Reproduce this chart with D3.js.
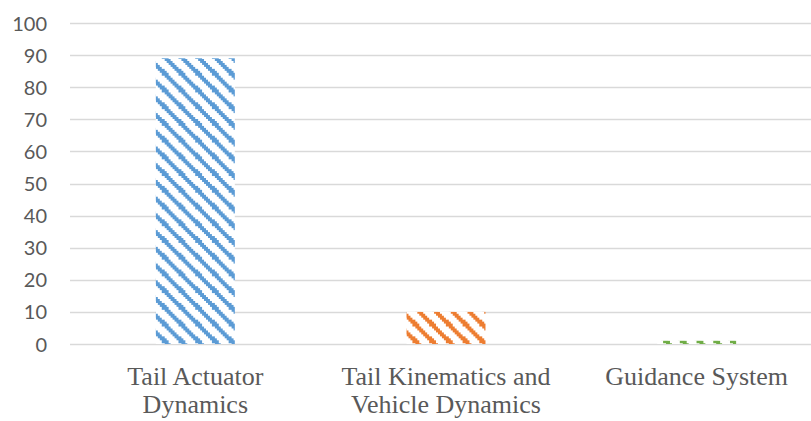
<!DOCTYPE html>
<html>
<head>
<meta charset="utf-8">
<script src="https://cdn.jsdelivr.net/npm/d3@7"></script>
<style>
  html, body { margin: 0; padding: 0; background: #fff; }
  svg { display: block; }
  .cat-label { font-family: "Liberation Serif", "Times New Roman", serif; }
  .tick-label { font-family: Lato, "Liberation Sans", Arial, sans-serif; }
</style>
</head>
<body>
<svg id="chart" width="811" height="421"></svg>
<script>
// Share of contribution by subsystem
const categories = ["Tail Actuator Dynamics", "Tail Kinematics and Vehicle Dynamics", "Guidance System"];
const labelLines = [["Tail Actuator", "Dynamics"], ["Tail Kinematics and", "Vehicle Dynamics"], ["Guidance System"]];
const values = [89, 10, 1];
const colors = ["#5B9BD5", "#ED7D31", "#70AD47"];
const yTicks = [0, 10, 20, 30, 40, 50, 60, 70, 80, 90, 100];

const svg = d3.select("#chart");
const plotLeft = 70, plotRight = 822, plotTop = 23, plotBottom = 344;

const x = d3.scaleBand().domain(categories).range([plotLeft, plotRight])
  .paddingInner(0.685).paddingOuter(0.3425);
const y = d3.scaleLinear().domain([0, 100]).range([plotBottom, plotTop]);

// Wide downward diagonal hatch patterns (8x8 cell grid, 3 cells filled per row)
const defs = svg.append("defs");
const cell = 2.09;
colors.forEach((c, i) => {
  const p = defs.append("pattern")
    .attr("id", "hatch" + i)
    .attr("patternUnits", "userSpaceOnUse")
    .attr("width", cell * 8).attr("height", cell * 8)
    .attr("x", x(categories[i])).attr("y", 0);
  p.append("rect").attr("width", cell * 8).attr("height", cell * 8).attr("fill", "#fff");
  for (let r = 0; r < 8; r++) {
    for (let k = 0; k < 3; k++) {
      const col = (r + k) % 8;
      p.append("rect")
        .attr("x", col * cell).attr("y", r * cell)
        .attr("width", cell + 0.02).attr("height", cell + 0.02)
        .attr("fill", c).attr("shape-rendering", "crispEdges");
    }
  }
});

// Gridlines
svg.append("g").selectAll("line").data(yTicks).join("line")
  .attr("x1", plotLeft).attr("x2", 811)
  .attr("y1", d => Math.round(y(d)) + 0.5).attr("y2", d => Math.round(y(d)) + 0.5)
  .attr("stroke", "#D9D9D9").attr("stroke-width", 1.4);

// Y axis tick labels
const yAxis = d3.axisLeft(y).tickValues(yTicks).tickSize(0).tickPadding(0);
const ga = svg.append("g").attr("transform", "translate(47,0)").call(yAxis);
ga.select(".domain").remove();
ga.attr("font-family", null).attr("font-size", null);
ga.selectAll("text")
  .attr("class", "tick-label")
  .attr("font-size", 20).attr("fill", "#595959").attr("dy", "0.35em");

// Bars
svg.append("g").selectAll("rect").data(values).join("rect")
  .attr("x", (d, i) => x(categories[i]))
  .attr("width", x.bandwidth())
  .attr("y", d => y(d))
  .attr("height", d => y(0) - y(d))
  .attr("fill", (d, i) => `url(#hatch${i})`);

// Category labels
const lab = svg.append("g").selectAll("text").data(categories).join("text")
  .attr("class", "cat-label")
  .attr("x", d => x(d) + x.bandwidth() / 2)
  .attr("y", 385)
  .attr("text-anchor", "middle")
  .attr("font-size", 26).attr("fill", "#595959");
lab.each(function(d, i) {
  d3.select(this).selectAll("tspan").data(labelLines[i]).join("tspan")
    .attr("x", x(d) + x.bandwidth() / 2)
    .attr("dy", (t, j) => j === 0 ? 0 : 28)
    .text(t => t);
});
</script>
</body>
</html>
